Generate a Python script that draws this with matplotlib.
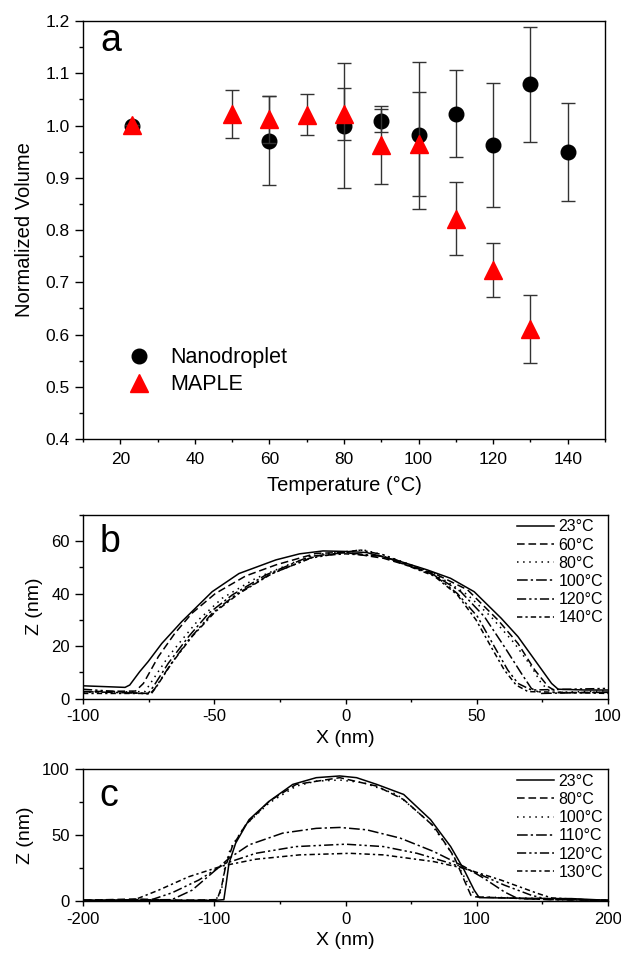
import numpy as np
import matplotlib.pyplot as plt
from matplotlib.lines import Line2D
from matplotlib.ticker import MultipleLocator

plt.rcParams['font.family'] = ['Liberation Sans', 'DejaVu Sans']
plt.rcParams['axes.unicode_minus'] = False

# ---- panel a: normalized volume vs temperature
nano_T = [23, 60, 80, 90, 100, 110, 120, 130, 140]
nano_V = [1.000, 0.971, 1.000, 1.009, 0.981, 1.023, 0.963, 1.079, 0.949]
nano_err = [0.0, 0.085, 0.119, 0.022, 0.140, 0.084, 0.119, 0.110, 0.094]

maple_T = [23, 50, 60, 70, 80, 90, 100, 110, 120, 130]
maple_V = [1.001, 1.022, 1.012, 1.021, 1.022, 0.963, 0.965, 0.822, 0.723, 0.610]
maple_err = [0.0, 0.046, 0.045, 0.040, 0.050, 0.074, 0.100, 0.070, 0.052, 0.065]

# ---- panel b: profiles of nanodroplet
b_labels = ['23°C', '60°C', '80°C', '100°C', '120°C', '140°C']
b_x = [
    [-100, -84, -82.2, -78.4, -75.2, -70, -62.4, -50.8, -40.6, -26.5, -17.5, -8.6, 0, 8, 20.9, 31.1, 40, 49, 59.3, 65.7, 72.1, 78.5, 81, 91.3, 100],
    [-100, -80, -77, -71.3, -65, -58.5, -49.6, -38, -26.5, -11.1, 0, 14.5, 33.7, 46.5, 58, 65.7, 72.1, 77.2, 81, 100],
    [-100, -76.4, -72.6, -67.5, -62.4, -56, -47, -34.2, -18.8, -8.6, 6.8, 14.5, 33.7, 46.5, 55.4, 64.4, 70.8, 74.6, 78.5, 100],
    [-100, -75.2, -73.2, -67.5, -59.8, -52.1, -43.1, -30.3, -13.7, 0, 14.5, 33.7, 43.9, 52.9, 60.5, 67, 70.8, 74.6, 100],
    [-100, -74.5, -72.6, -66.8, -59.8, -50.8, -41.9, -29.1, -13.7, 5.5, 14.5, 33.7, 42.6, 50.3, 56.7, 61.8, 65.7, 70.8, 100],
    [-100, -73.9, -72, -66.2, -58.5, -49.6, -40.6, -27.8, -11.1, 0, 14.5, 33.7, 42.6, 49.7, 55.4, 60.5, 65, 69.5, 100],
]
b_z = [
    [4.9, 4.3, 5.2, 10.3, 14.1, 21, 29.3, 40.7, 47.6, 52.8, 55.1, 56.2, 56, 55.6, 52.2, 49, 45.8, 40.7, 30.6, 23.6, 14.7, 5.8, 3.6, 3.3, 3.3],
    [2.7, 2.9, 5.8, 16, 24.9, 32.5, 40, 46.7, 50.9, 55.3, 55.6, 53.4, 47.7, 41.4, 30, 21, 10.9, 4.6, 2.3, 2.4],
    [2.4, 2.7, 8.4, 16, 22.3, 30, 38.2, 45.8, 52.2, 55.1, 56.6, 54.7, 47.7, 39.5, 31.2, 21, 12.2, 5.8, 2.3, 3],
    [2.7, 2, 4.6, 13.5, 23.6, 32.5, 39.5, 47.1, 54.1, 55.6, 54.1, 47.1, 40.7, 31.2, 19.8, 9.6, 3.9, 2, 2.5],
    [3.6, 1.8, 3.9, 12.8, 22.3, 32.5, 39.5, 47.1, 53.4, 56.6, 54.7, 47.1, 40, 31.2, 19.8, 10.9, 5.8, 3.3, 3.9],
    [2, 2, 4.6, 13.5, 23.6, 33.1, 40, 47.7, 54.3, 55.1, 54.1, 46.7, 39.5, 30, 19.8, 10.9, 5.2, 2.7, 2],
]

# ---- panel c: profiles of MAPLE film
c_labels = ['23°C', '80°C', '100°C', '110°C', '120°C', '130°C']
c_x = [
    [-200, -99, -92.7, -90.9, -88.8, -83.7, -73.5, -58.1, -40.2, -22.3, -4.4, 8.4, 23.8, 44.3, 64.8, 80.1, 90.4, 98.1, 101.9, 157, 172, 200],
    [-200, -160.5, -124.7, -97.8, -94.5, -91.4, -86.3, -76, -58.1, -37.6, -4.4, 23.8, 44.3, 67.3, 82.7, 90.4, 95.5, 99.3, 157, 200],
    [-200, -99, -94.5, -91.9, -87.6, -76, -58.1, -37.6, -22.3, -4.4, 13.6, 39.2, 64.8, 80.1, 90.4, 96.8, 100.6, 200],
    [-200, -132.4, -117, -99, -88.8, -73.5, -47.9, -22.3, -4.4, 16.1, 41.7, 67.3, 90.4, 105.7, 121, 131.3, 157, 200],
    [-200, -147.7, -132.4, -111.9, -91.4, -68.4, -37.6, 0, 28.9, 54.5, 80.1, 100.6, 121, 141.6, 151.8, 169.7, 200],
    [-200, -160.5, -142.6, -119.6, -94, -68.4, -35.1, 3.3, 28.9, 67.3, 90.4, 118.5, 146.7, 157, 172.3, 200],
]
c_z = [
    [0.5, 0.5, 1, 13.2, 28.5, 43.8, 61.6, 75.6, 88.3, 93.4, 94.7, 93.4, 88.3, 80.7, 61.6, 41.2, 23.4, 8.1, 2.5, 1.8, 1.8, 0.5],
    [0.5, 1.5, 0.5, 1, 10.7, 26, 41.2, 57.8, 75.6, 88.3, 93.4, 87, 76.8, 56.5, 33.6, 15.8, 4.3, 3.1, 1, 0.5],
    [0.5, 0.5, 8.1, 26, 40, 57.8, 74.3, 87, 90.8, 91.6, 89.6, 80.7, 59, 37.4, 18.3, 6.9, 3.1, 0.5],
    [0.5, 1, 8.1, 23.4, 32.3, 42.5, 51.4, 55, 55.7, 53.9, 47.6, 37.4, 26, 17, 6.9, 1.8, 1, 0.5],
    [0.5, 1, 6.1, 15.8, 28.5, 36.1, 41.2, 43, 41.2, 36.1, 28.5, 20.9, 12, 4.3, 1.8, 1, 0.5],
    [0, 1, 8.1, 18.3, 26.5, 31.6, 34.9, 36.1, 34.9, 29.8, 24.7, 15.8, 5.6, 2.3, 1.5, 0],
]

styles = ['-', (0, (5, 2.5)), (0, (1, 3)), (0, (7, 2, 1.5, 2)),
          (0, (6, 2, 1.5, 2, 1.5, 2)), (0, (3.5, 2, 1.5, 2))]

fig = plt.figure(figsize=(6.21, 9.6), dpi=100)
ax1 = fig.add_axes([0.1337, 0.5427, 0.8406, 0.4354])
ax2 = fig.add_axes([0.1337, 0.2722, 0.8454, 0.1917])
ax3 = fig.add_axes([0.1337, 0.0615, 0.8454, 0.1375])


def style_axes(ax, lab):
    for s in ax.spines.values():
        s.set_linewidth(1.0)
    ax.tick_params(which='both', direction='out', top=False, right=False)
    ax.tick_params(axis='y', which='major', length=5.5, width=1.0, pad=4, labelsize=lab)
    ax.tick_params(axis='y', which='minor', length=3, width=1.0)
    ax.tick_params(axis='x', which='major', length=3.6, width=1.0, pad=4, labelsize=lab)
    ax.tick_params(axis='x', which='minor', length=2.2, width=1.0)


# panel a
ax1.errorbar(nano_T, nano_V, yerr=nano_err, fmt='o', color='black', ms=10.5,
             ecolor='#333333', elinewidth=1, capsize=5, capthick=1, zorder=3)
ax1.errorbar(maple_T, maple_V, yerr=maple_err, fmt='^', color='red', ms=13,
             ecolor='#333333', elinewidth=1, capsize=5, capthick=1, zorder=4)
ax1.set_xlim(10, 150)
ax1.set_ylim(0.4, 1.2)
ax1.xaxis.set_major_locator(MultipleLocator(20))
ax1.xaxis.set_minor_locator(MultipleLocator(10))
ax1.yaxis.set_major_locator(MultipleLocator(0.1))
ax1.yaxis.set_minor_locator(MultipleLocator(0.05))
ax1.yaxis.set_major_formatter(plt.FormatStrFormatter('%.1f'))
style_axes(ax1, 12.5)
ax1.tick_params(axis='x', which='major', pad=6)
ax1.set_xlabel('Temperature (°C)', fontsize=14.5, labelpad=6)
ax1.set_ylabel('Normalized Volume', fontsize=14.5, labelpad=8)
ax1.text(0.033, 0.928, 'a', transform=ax1.transAxes, fontsize=27, va='baseline')
handles = [Line2D([], [], marker='o', color='black', ls='none', ms=10.5),
           Line2D([], [], marker='^', color='red', ls='none', ms=13)]
ax1.legend(handles, ['Nanodroplet', 'MAPLE'], loc='upper left',
           bbox_to_anchor=(0.045, 0.245), frameon=False, fontsize=15.5,
           handletextpad=0.45, labelspacing=0.28, borderpad=0)

# panel b
for xs, zs, ls, lb in zip(b_x, b_z, styles, b_labels):
    ax2.plot(xs, zs, color='black', ls=ls, lw=1.1, label=lb)
ax2.set_xlim(-100, 100)
ax2.set_ylim(0, 70)
ax2.xaxis.set_major_locator(MultipleLocator(50))
ax2.xaxis.set_minor_locator(MultipleLocator(25))
ax2.yaxis.set_major_locator(MultipleLocator(20))
ax2.yaxis.set_minor_locator(MultipleLocator(10))
style_axes(ax2, 12)
ax2.set_xlabel('X (nm)', fontsize=14, labelpad=4)
ax2.set_ylabel('Z (nm)', fontsize=14, labelpad=6)
ax2.text(0.032, 0.797, 'b', transform=ax2.transAxes, fontsize=27, va='baseline')
ax2.legend(loc='upper right', bbox_to_anchor=(1.0, 1.0), frameon=False,
           fontsize=11.5, handlelength=2.3, handletextpad=0.3,
           labelspacing=0.2, borderpad=0.1, borderaxespad=0.2)

# panel c
for xs, zs, ls, lb in zip(c_x, c_z, styles, c_labels):
    ax3.plot(xs, zs, color='black', ls=ls, lw=1.1, label=lb)
ax3.set_xlim(-200, 200)
ax3.set_ylim(0, 100)
ax3.xaxis.set_major_locator(MultipleLocator(100))
ax3.xaxis.set_minor_locator(MultipleLocator(50))
ax3.yaxis.set_major_locator(MultipleLocator(50))
ax3.yaxis.set_minor_locator(MultipleLocator(25))
style_axes(ax3, 12)
ax3.set_xlabel('X (nm)', fontsize=14, labelpad=4)
ax3.set_ylabel('Z (nm)', fontsize=14, labelpad=6)
ax3.text(0.032, 0.72, 'c', transform=ax3.transAxes, fontsize=27, va='baseline')
ax3.legend(loc='upper right', bbox_to_anchor=(1.0, 1.0), frameon=False,
           fontsize=11.5, handlelength=2.3, handletextpad=0.3,
           labelspacing=0.2, borderpad=0.1, borderaxespad=0.2)

fig.savefig('out.png', dpi=100)
